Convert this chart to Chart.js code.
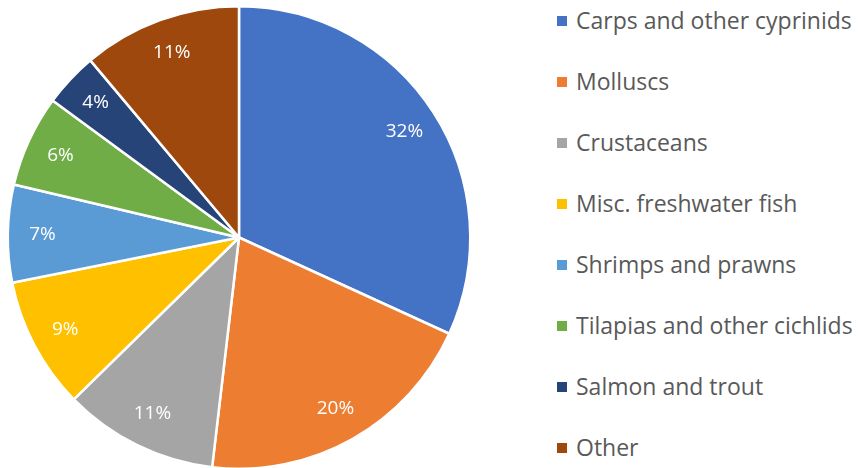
<!DOCTYPE html>
<html>
<head>
<meta charset="utf-8">
<script src="https://cdn.jsdelivr.net/npm/chart.js@4/dist/chart.umd.min.js"></script>
<style>
  html, body { margin: 0; padding: 0; background: #fff; overflow: hidden; }
  #wrap { position: relative; width: 861px; height: 468px; overflow: hidden; }
  #box { position: absolute; left: 0; top: 0; width: 478px; height: 470px; }
  #legend { position: absolute; left: 557px; top: 0; margin: 0; padding: 0; list-style: none;
            font-family: "Open Sans", Lato, sans-serif; font-size: 23px; color: #595959; }
  #legend li { position: absolute; left: 0; height: 28px; line-height: 28px; white-space: nowrap; }
  #legend span.sw { display: inline-block; width: 10px; height: 10px; margin-right: 9px; vertical-align: 3px; }
</style>
</head>
<body>
<div id="wrap">
  <div id="box"><canvas id="pie"></canvas></div>
  <ul id="legend"></ul>
</div>
<script>
const categories = ['Carps and other cyprinids', 'Molluscs', 'Crustaceans', 'Misc. freshwater fish',
  'Shrimps and prawns', 'Tilapias and other cichlids', 'Salmon and trout', 'Other'];
const shares = [31.8, 20.0, 10.8, 9.2, 6.8, 6.4, 3.8, 11.1];
const colors = ['#4472C4', '#ED7D31', '#A5A5A5', '#FFC000', '#5B9BD5', '#70AD47', '#264478', '#9E480E'];

// percent labels inside the slices
const sliceLabels = {
  id: 'sliceLabels',
  afterDatasetsDraw(chart) {
    const ctx = chart.ctx;
    const data = chart.data.datasets[0].data;
    const total = data.reduce((a, b) => a + b, 0);
    ctx.save();
    ctx.font = '19px "Open Sans", Lato, sans-serif';
    ctx.fillStyle = '#fff';
    ctx.textAlign = 'center';
    ctx.textBaseline = 'middle';
    chart.getDatasetMeta(0).data.forEach((arc, i) => {
      const mid = (arc.startAngle + arc.endAngle) / 2;
      const r = arc.outerRadius * 0.85;
      const pct = Math.round(data[i] / total * 100) + '%';
      ctx.fillText(pct, arc.x + Math.cos(mid) * r, arc.y + Math.sin(mid) * r);
    });
    ctx.restore();
  }
};

// html legend built from the chart's own legend items
const htmlLegend = {
  id: 'htmlLegend',
  afterUpdate(chart) {
    const ul = document.getElementById('legend');
    ul.innerHTML = '';
    const items = chart.options.plugins.legend.labels.generateLabels(chart);
    items.forEach((item, i) => {
      const li = document.createElement('li');
      li.style.top = (6 + i * 61) + 'px';
      const sw = document.createElement('span');
      sw.className = 'sw';
      sw.style.background = item.fillStyle;
      li.appendChild(sw);
      li.appendChild(document.createTextNode(item.text));
      ul.appendChild(li);
    });
  }
};

new Chart(document.getElementById('pie'), {
  type: 'pie',
  data: {
    labels: categories,
    datasets: [{
      data: shares,
      backgroundColor: colors,
      borderColor: '#fff',
      borderWidth: 2.5
    }]
  },
  options: {
    responsive: true,
    maintainAspectRatio: false,
    animation: false,
    layout: { padding: { top: 5, bottom: 0, left: 4, right: 4 } },
    plugins: {
      legend: { display: false },
      tooltip: { enabled: false }
    }
  },
  plugins: [sliceLabels, htmlLegend]
});
</script>
</body>
</html>
